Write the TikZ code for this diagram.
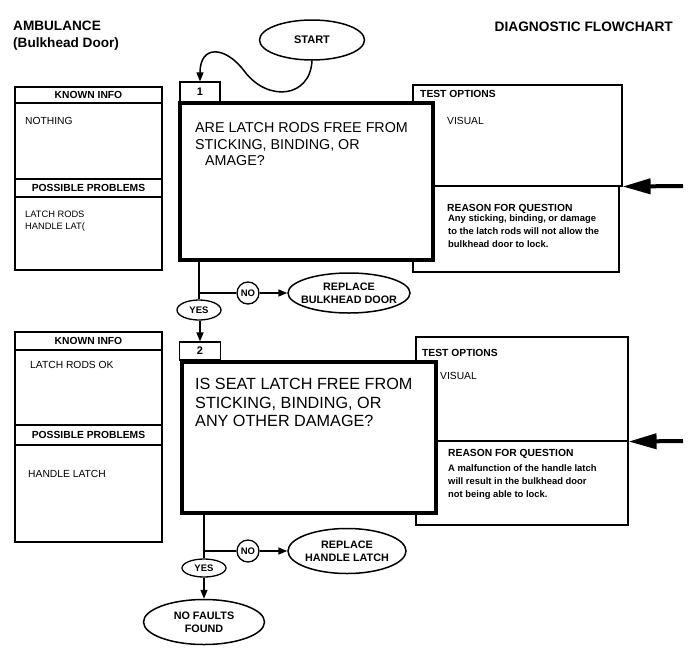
\documentclass[tikz,border=0pt]{standalone}
\usepackage{fontspec}
\setmainfont{Liberation Sans}
\usetikzlibrary{arrows.meta,shapes.geometric}
\begin{document}
\begin{tikzpicture}[x=1pt,y=-1pt,
  thinbox/.style={draw, line width=1.1pt, inner sep=0, fill=white},
  qbox/.style={draw, line width=3.6pt, fill=white, inner sep=0},
  oval/.style={ellipse, draw, line width=1.5pt, fill=white, inner ysep=0, inner xsep=-14pt, align=center, font=\bfseries\fontsize{10.8}{13}\selectfont},
  small/.style={ellipse, draw, line width=1.3pt, fill=white, inner sep=0, font=\bfseries\fontsize{9.5}{10}\selectfont},
  txt/.style={anchor=base west, inner sep=0},
  hdr/.style={font=\bfseries\fontsize{10.3}{12}\selectfont},
  body/.style={txt, font=\fontsize{10.3}{12}\selectfont},
  reason/.style={txt, font=\bfseries\fontsize{9.4}{11}\selectfont},
  q1font/.style={txt, font=\fontsize{14.3}{16}\selectfont},
  q2font/.style={txt, font=\fontsize{16.2}{18}\selectfont},
  conn/.style={line width=1.5pt},
  arr/.style={conn, -{Triangle[length=9pt,width=7pt]}},
  bigarr/.style={line width=4pt, -{Triangle[length=28pt,width=15pt]}}
]
\useasboundingbox (0,0) rectangle (690,653);

% titles
\node[txt, font=\bfseries\fontsize{13.6}{15}\selectfont] (t1) at (13,30) {AMBULANCE};
\node[txt, font=\bfseries\fontsize{13.6}{15}\selectfont] (t2) at (13,47) {(Bulkhead Door)};
\node[anchor=base east, inner sep=0, font=\bfseries\fontsize{13.7}{15}\selectfont] (t3) at (673,31) {DIAGNOSTIC FLOWCHART};

% ---------- step 1 ----------
\node[thinbox, hdr, minimum width=147pt, minimum height=16pt] (k1h) at (88.5,95) {KNOWN INFO};
\node[thinbox, minimum width=147pt, minimum height=76pt] (k1b) at (88.5,141) {};
\node[thinbox, hdr, minimum width=147pt, minimum height=18pt] (p1h) at (88.5,188) {POSSIBLE PROBLEMS};
\node[thinbox, minimum width=147pt, minimum height=73pt] (p1b) at (88.5,233.5) {};
\node[body] (k1t) at (25,124) {NOTHING};
\node[txt, font=\fontsize{9.3}{11}\selectfont] (p1t1) at (25,217) {LATCH RODS};
\node[txt, font=\fontsize{9.3}{11}\selectfont] (p1t2) at (25,229) {HANDLE LAT(};

\node[thinbox, minimum width=209pt, minimum height=101pt] (o1) at (517.5,135.5) {};
\node[thinbox, minimum width=206pt, minimum height=86pt] (r1) at (516,229) {};
\node[txt, hdr] (o1h) at (420,97) {TEST OPTIONS};
\node[body] (o1t) at (447,124) {VISUAL};
\node[txt, hdr] (r1h) at (447,211) {REASON FOR QUESTION};
\node[reason] (r1a) at (448,221) {Any sticking, binding, or damage};
\node[reason] (r1b) at (448,234) {to the latch rods will not allow the};
\node[reason] (r1c) at (448,247) {bulkhead door to lock.};
\coordinate (a1) at (683,186);
\draw[bigarr] (a1) -- (o1.south east);

\node[qbox, minimum width=253pt, minimum height=157pt] (q1) at (306.5,181.5) {};
\node[thinbox, font=\bfseries\fontsize{11}{12}\selectfont, minimum width=40pt, minimum height=20pt] (lab1) at (200,92) {1};
\node[q1font] (q1a) at (195,132) {ARE LATCH RODS FREE FROM};
\node[q1font] (q1b) at (195,149) {STICKING, BINDING, OR};
\node[q1font] (q1c) at (205,165) {AMAGE?};

\node[oval, font=\bfseries\fontsize{11}{12}\selectfont, minimum width=105pt, minimum height=40pt] (start) at (312,40) {START};
\draw[arr] (start.south) .. controls (310,98) and (268,102) .. (245,72)
  .. controls (226,46) and (200,44) .. (lab1.north);

\node[small, minimum width=44pt, minimum height=20pt] (yes1) at (199,310) {YES};
\node[small, circle, minimum size=22pt] (no1) at (248,293) {NO};
\node[oval, minimum width=122pt, minimum height=40pt] (rep1) at (349,293) {REPLACE\\BULKHEAD DOOR};
\draw[conn] (q1.south -| yes1.north) -- (yes1.north);
\coordinate (br1) at (199,293);
\draw[conn] (br1) -- (no1.west);
\draw[arr] (no1.east) -- (rep1.west);

% ---------- step 2 ----------
\node[thinbox, hdr, minimum width=147pt, minimum height=18pt] (k2h) at (88.5,341) {KNOWN INFO};
\node[thinbox, minimum width=147pt, minimum height=75pt] (k2b) at (88.5,387.5) {};
\node[thinbox, hdr, minimum width=147pt, minimum height=20pt] (p2h) at (88.5,435) {POSSIBLE PROBLEMS};
\node[thinbox, minimum width=147pt, minimum height=97pt] (p2b) at (88.5,493.5) {};
\node[body] (k2t) at (30,368) {LATCH RODS OK};
\node[body] (p2t) at (28,477) {HANDLE LATCH};

\node[thinbox, minimum width=212pt, minimum height=104pt] (o2) at (522,389) {};
\node[thinbox, minimum width=212pt, minimum height=84pt] (r2) at (522,483) {};
\node[txt, hdr] (o2h) at (422,356) {TEST OPTIONS};
\node[body] (o2t) at (440,379) {VISUAL};
\node[txt, hdr] (r2h) at (448,456) {REASON FOR QUESTION};
\node[reason] (r2a) at (448,471) {A malfunction of the handle latch};
\node[reason] (r2b) at (448,484) {will result in the bulkhead door};
\node[reason] (r2c) at (448,497) {not being able to lock.};
\coordinate (a2) at (683,441);
\draw[bigarr] (a2) -- (o2.south east);

\node[qbox, minimum width=254pt, minimum height=151pt] (q2) at (309,437.5) {};
\node[thinbox, font=\bfseries\fontsize{11}{12}\selectfont, minimum width=41pt, minimum height=18pt] (lab2) at (200,351) {2};
\node[q2font] (q2a) at (195,389) {IS SEAT LATCH FREE FROM};
\node[q2font] (q2b) at (195,408) {STICKING, BINDING, OR};
\node[q2font] (q2c) at (195,426) {ANY OTHER DAMAGE?};

\draw[arr] (yes1.south -| lab2.north) -- (lab2.north);

\node[small, minimum width=44pt, minimum height=18pt] (yes2) at (204,568) {YES};
\node[small, circle, minimum size=22pt] (no2) at (248,551) {NO};
\node[oval, minimum width=118pt, minimum height=45pt] (rep2) at (347,551) {REPLACE\\HANDLE LATCH};
\node[oval, minimum width=121pt, minimum height=45pt] (nf) at (204,622) {NO FAULTS\\FOUND};
\draw[conn] (q2.south -| yes2.north) -- (yes2.north);
\coordinate (br2) at (204,551);
\draw[conn] (br2) -- (no2.west);
\draw[arr] (no2.east) -- (rep2.west);
\draw[arr] (yes2.south) -- (nf.north);
\end{tikzpicture}
\end{document}
